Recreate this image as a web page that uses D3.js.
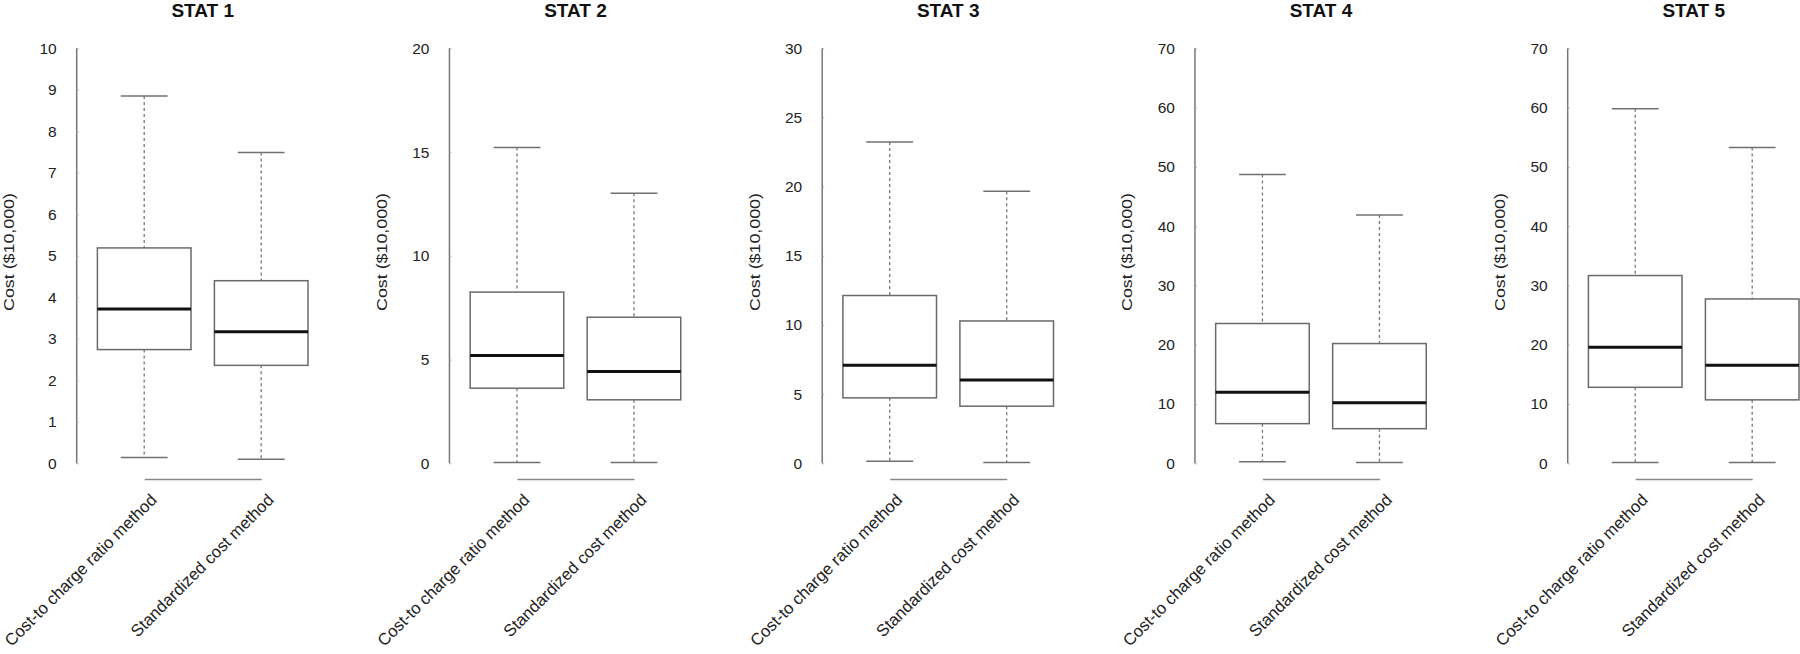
<!DOCTYPE html>
<html>
<head>
<meta charset="utf-8">
<script src="https://cdn.jsdelivr.net/npm/d3@7"></script>
<style>
  html, body { margin: 0; padding: 0; background: #fff; }
  svg { display: block; font-family: "Liberation Sans", Arial, sans-serif; }
</style>
</head>
<body>
<svg id="chart" width="1800" height="654"></svg>
<script>
// ---- data ----
const panelTitles = ["STAT 1", "STAT 2", "STAT 3", "STAT 4", "STAT 5"];
const methods = ["Cost-to charge ratio method", "Standardized cost method"];
const yMax = [10, 20, 30, 70, 70];
const yTickStep = [1, 5, 5, 10, 10];
// [lower whisker, Q1, median, Q3, upper whisker] in $10,000
const ccrStats = [
  [0.14, 2.74, 3.72, 5.19, 8.85],
  [0.04, 3.62, 5.19, 8.25, 15.22],
  [0.15, 4.73, 7.09, 12.13, 23.23],
  [0.28, 6.69, 11.97, 23.58, 48.7],
  [0.14, 12.82, 19.57, 31.67, 59.8]
];
const scStats = [
  [0.10, 2.36, 3.17, 4.40, 7.49],
  [0.04, 3.06, 4.42, 7.04, 13.01],
  [0.06, 4.13, 6.03, 10.29, 19.67],
  [0.14, 5.84, 10.2, 20.2, 41.87],
  [0.14, 10.7, 16.53, 27.72, 53.27]
];
const yLabel = "Cost ($10,000)";

// ---- layout ----
const svg = d3.select("#chart");
const axisX0 = 76.7, panelStep = 372.75;
const yTop = 48.3, yBottom = 463.3;

panelTitles.forEach((title, i) => {
  const ax = axisX0 + i * panelStep;
  const g = svg.append("g");
  const x = d3.scalePoint().domain(methods).range([ax + 67.5, ax + 184.5]);
  const bw = 0.8 * x.step();
  const y = d3.scaleLinear().domain([0, yMax[i]]).range([yBottom, yTop]);
  const ticks = d3.range(0, yMax[i] + 0.001, yTickStep[i]);

  // y axis
  const yAxis = d3.axisLeft(y).tickValues(ticks).tickSize(2).tickPadding(18).tickFormat(d3.format("d"));
  const ya = g.append("g").attr("transform", `translate(${ax},0)`).call(yAxis);
  ya.select(".domain").attr("d", `M0,${yTop}V${yBottom}`).attr("stroke", "#777").attr("stroke-width", 1.5);
  ya.selectAll(".tick line").attr("stroke", "#aaa").attr("x2", 2);
  ya.selectAll(".tick text").attr("font-size", 15.5).attr("fill", "#222")
    .attr("font-family", "'Liberation Sans', Arial, sans-serif");

  // x axis bracket (no ticks)
  const xAxis = d3.axisBottom(x).tickSize(0).tickFormat("");
  const xa = g.append("g").attr("transform", `translate(0,479)`).call(xAxis);
  xa.select(".domain").attr("stroke", "#888").attr("stroke-width", 1.5);

  // category labels
  methods.forEach(m => {
    g.append("text")
      .attr("transform", `translate(${x(m) + 13.5},501) rotate(-45)`)
      .attr("text-anchor", "end")
      .attr("font-size", 16.7)
      .attr("fill", "#222")
      .text(m);
  });

  // title
  g.append("text")
    .attr("x", (x(methods[0]) + x(methods[1])) / 2)
    .attr("y", 16.5)
    .attr("text-anchor", "middle")
    .attr("font-size", 19)
    .attr("font-weight", "bold")
    .attr("fill", "#111")
    .text(title);

  // y label
  g.append("text")
    .attr("transform", `translate(${ax - 62.5},252) rotate(-90)`)
    .attr("text-anchor", "middle")
    .attr("font-size", 15)
    .attr("fill", "#222")
    .attr("textLength", 118)
    .attr("lengthAdjust", "spacingAndGlyphs")
    .text(yLabel);

  // boxes
  const stats = [ccrStats[i], scStats[i]];
  stats.forEach((s, j) => {
    const cx = x(methods[j]);
    const [lo, q1, med, q3, hi] = s;
    // whiskers (dashed)
    g.append("line").attr("x1", cx).attr("x2", cx).attr("y1", y(hi)).attr("y2", y(q3))
      .attr("stroke", "#777").attr("stroke-width", 1.3).attr("stroke-dasharray", "3,3");
    g.append("line").attr("x1", cx).attr("x2", cx).attr("y1", y(q1)).attr("y2", y(lo))
      .attr("stroke", "#777").attr("stroke-width", 1.3).attr("stroke-dasharray", "3,3");
    // caps
    [lo, hi].forEach(v => {
      g.append("line").attr("x1", cx - bw / 4).attr("x2", cx + bw / 4).attr("y1", y(v)).attr("y2", y(v))
        .attr("stroke", "#707070").attr("stroke-width", 1.5);
    });
    // box
    g.append("rect").attr("x", cx - bw / 2).attr("y", y(q3)).attr("width", bw).attr("height", y(q1) - y(q3))
      .attr("fill", "#fff").attr("stroke", "#6a6a6a").attr("stroke-width", 1.5);
    // median
    g.append("line").attr("x1", cx - bw / 2).attr("x2", cx + bw / 2).attr("y1", y(med)).attr("y2", y(med))
      .attr("stroke", "#111").attr("stroke-width", 3);
  });
});
</script>
</body>
</html>
